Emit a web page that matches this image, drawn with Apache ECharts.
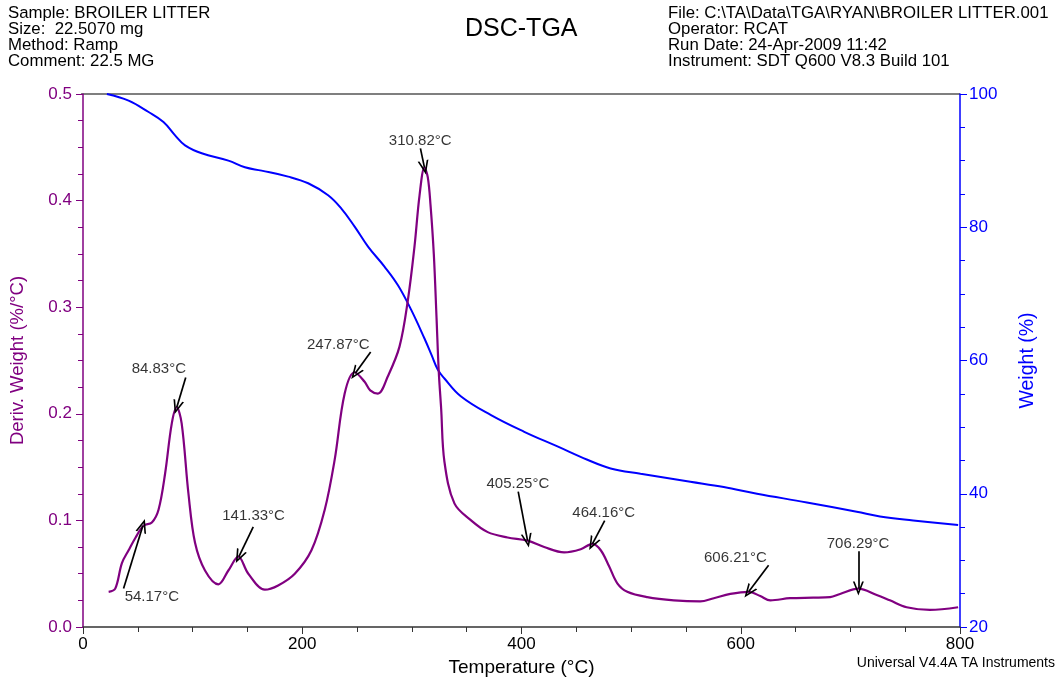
<!DOCTYPE html>
<html><head><meta charset="utf-8">
<script src="https://cdn.jsdelivr.net/npm/echarts@6/dist/echarts.min.js"></script>
<style>html,body{margin:0;padding:0;background:#fff}#c{width:1060px;height:684px}</style>
</head><body><div id="c"></div>
<script>
// Derivative weight (%/°C) curve: [temperature, value]
const derivT = [23.4,29.4,35.5,41.6,48,55.2,62.8,68.9,74.9,81,85.5,90,96.2,102.2,111.3,123.5,132.6,141.7,150.8,165.9,178,193.2,208.4,220.5,229.6,238.7,247.8,256.9,262,269,278,288.7,296.4,302.4,307,311.5,314.5,317,320,322.5,324.5,326.7,329.7,338.8,354,369.2,387.3,405.5,420.7,438.9,454,464.7,472.3,479.9,487.4,496.5,514.7,539,563,575.4,590.5,607.2,617.8,627,645,666,681.5,690.6,707.3,724,736,751.3,772.5,798.3];
const derivV = [0.033,0.036,0.060,0.072,0.084,0.095,0.098,0.110,0.144,0.191,0.206,0.191,0.125,0.079,0.053,0.040,0.053,0.066,0.050,0.035,0.039,0.050,0.072,0.110,0.157,0.219,0.239,0.230,0.222,0.219,0.235,0.263,0.307,0.357,0.405,0.431,0.422,0.396,0.350,0.290,0.240,0.205,0.155,0.116,0.100,0.089,0.084,0.081,0.075,0.070,0.073,0.078,0.072,0.057,0.041,0.033,0.028,0.025,0.024,0.027,0.031,0.033,0.029,0.025,0.027,0.0275,0.028,0.031,0.036,0.030,0.025,0.0185,0.016,0.0185];
// Weight (%) curve
const weightT = [21.8,41.6,59.8,73.4,84,93.1,108.3,132.6,147.7,162.9,187.2,205.4,223.6,235.7,247.8,260,275,287.3,299.4,311.5,318,323.7,329.7,344.9,372.2,402.5,432.8,460.1,481.3,508.6,554,584.5,614.8,660.3,705.8,727,757.3,798.3];
const weightV = [100,99.0,97.3,95.8,93.8,92.3,91.1,90.0,89.0,88.5,87.6,86.6,84.8,82.8,80.1,77.1,74.1,71.3,67.6,63.3,60.8,58.6,57.3,54.6,51.8,49.3,47.1,45.1,43.8,43.0,41.8,41.0,40.0,38.7,37.3,36.6,36.0,35.3];
// Peak annotations
const peakLabels = ['54.17°C','84.83°C','141.33°C','247.87°C','310.82°C','405.25°C','464.16°C','606.21°C','706.29°C'];
const labelPos = [[62.8,0.028],[69.2,0.242],[155.6,0.104],[232.9,0.265],[307.6,0.456],[396.7,0.134],[475,0.107],[595.1,0.065],[707,0.078]];
const arrowFrom = [[37,0.036],[93.7,0.234],[155.3,0.094],[262.4,0.258],[307.8,0.449],[397,0.127],[475.9,0.0997],[625.4,0.058],[707.3,0.071]];
const arrowTo = [[54.6,0.095],[85.5,0.206],[142.2,0.066],[248.4,0.238],[311.5,0.431],[405.5,0.081],[464.7,0.078],[607.2,0.033],[707.3,0.036]];
const xTicks = [0,200,400,600,800];
const headerLeft = ['Sample: BROILER LITTER','Size:  22.5070 mg','Method: Ramp','Comment: 22.5 MG'];
const headerRight = ['File: C:\\TA\\Data\\TGA\\RYAN\\BROILER LITTER.001','Operator: RCAT','Run Date: 24-Apr-2009 11:42','Instrument: SDT Q600 V8.3 Build 101'];

const PURPLE = '#800080', BLUE = '#0000ff';
const FONT = '"Liberation Sans", Arial, sans-serif';
const chevron = 'path://M0,12 L5,0 L10,12 L8.4,12 L5,3.8 L1.6,12 Z';

const chart = echarts.init(document.getElementById('c'), null, {renderer:'canvas'});
const graphics = [];
headerLeft.forEach((t,i)=>graphics.push({type:'text',left:8,top:5+i*16,style:{text:t,font:'16.8px '+FONT,fill:'#000'}}));
headerRight.forEach((t,i)=>graphics.push({type:'text',left:668,top:5+i*16,style:{text:t,font:'16.8px '+FONT,fill:'#000'}}));
graphics.push({type:'text',left:465,top:17,style:{text:'DSC-TGA',font:'25px '+FONT,fill:'#000'}});
graphics.push({type:'text',right:5,top:656,style:{text:'Universal V4.4A TA Instruments',font:'14px '+FONT,fill:'#000'}});
graphics.push({type:'line',shape:{x1:81,y1:94,x2:960,y2:94},style:{stroke:'#555',lineWidth:1.5}});

const option = {
  animation:false,
  textStyle:{fontFamily:FONT},
  graphic:graphics,
  grid:{left:81,right:100,top:94,bottom:57,containLabel:false},
  xAxis:{type:'value',min:0,max:800,interval:200,
    name:'Temperature (°C)',nameLocation:'middle',nameGap:30,
    nameTextStyle:{color:'#000',fontSize:19,fontFamily:FONT},
    axisLine:{show:true,lineStyle:{color:'#333',width:1.5}},
    axisTick:{show:true,length:7,inside:false,lineStyle:{color:'#333'}},
    minorTick:{show:true,splitNumber:4,length:5,lineStyle:{color:'#333'}},
    axisLabel:{color:'#000',fontSize:17,margin:9,formatter:v=>xTicks.includes(v)?String(v):''},
    splitLine:{show:false}},
  yAxis:[
    {type:'value',min:0,max:0.5,interval:0.1,position:'left',
     name:'Deriv. Weight (%/°C)',nameLocation:'middle',nameGap:56,nameRotate:90,
     nameTextStyle:{color:PURPLE,fontSize:18.5,fontFamily:FONT},
     axisLine:{show:true,lineStyle:{color:PURPLE,width:1.5}},
     axisTick:{show:true,length:7,lineStyle:{color:PURPLE}},
     minorTick:{show:true,splitNumber:4,length:5,lineStyle:{color:PURPLE}},
     axisLabel:{color:PURPLE,fontSize:17,margin:11,formatter:v=>v.toFixed(1)},
     splitLine:{show:false}},
    {type:'value',min:20,max:100,interval:20,position:'right',
     name:'Weight (%)',nameLocation:'middle',nameGap:58,nameRotate:90,
     nameTextStyle:{color:BLUE,fontSize:19.5,fontFamily:FONT},
     axisLine:{show:true,lineStyle:{color:BLUE,width:1.5}},
     axisTick:{show:true,length:7,lineStyle:{color:BLUE}},
     minorTick:{show:true,splitNumber:4,length:5,lineStyle:{color:BLUE}},
     axisLabel:{color:BLUE,fontSize:17,margin:9},
     splitLine:{show:false}}
  ],
  series:[
    {type:'line',yAxisIndex:1,showSymbol:false,smooth:0.4,
     data:weightT.map((t,i)=>[t,weightV[i]]),
     lineStyle:{color:BLUE,width:2},z:2},
    {type:'line',yAxisIndex:0,showSymbol:false,smooth:0.35,
     data:derivT.map((t,i)=>[t,derivV[i]]),
     lineStyle:{color:PURPLE,width:2.2},z:3,
     markLine:{silent:true,symbol:['none',chevron],symbolSize:[11,14],
       label:{show:false},
       lineStyle:{color:'#000',width:1.7,type:'solid'},
       data:arrowFrom.map((f,i)=>[{coord:f},{coord:arrowTo[i]}])}},
    {type:'scatter',yAxisIndex:0,symbolSize:0,silent:true,
     data:labelPos.map((p,i)=>({value:p,name:peakLabels[i]})),
     label:{show:true,position:'inside',formatter:p=>p.name,color:'#000',fontSize:15,fontFamily:FONT,textBorderWidth:0},z:5}
  ]
};
chart.setOption(option);
</script></body></html>
